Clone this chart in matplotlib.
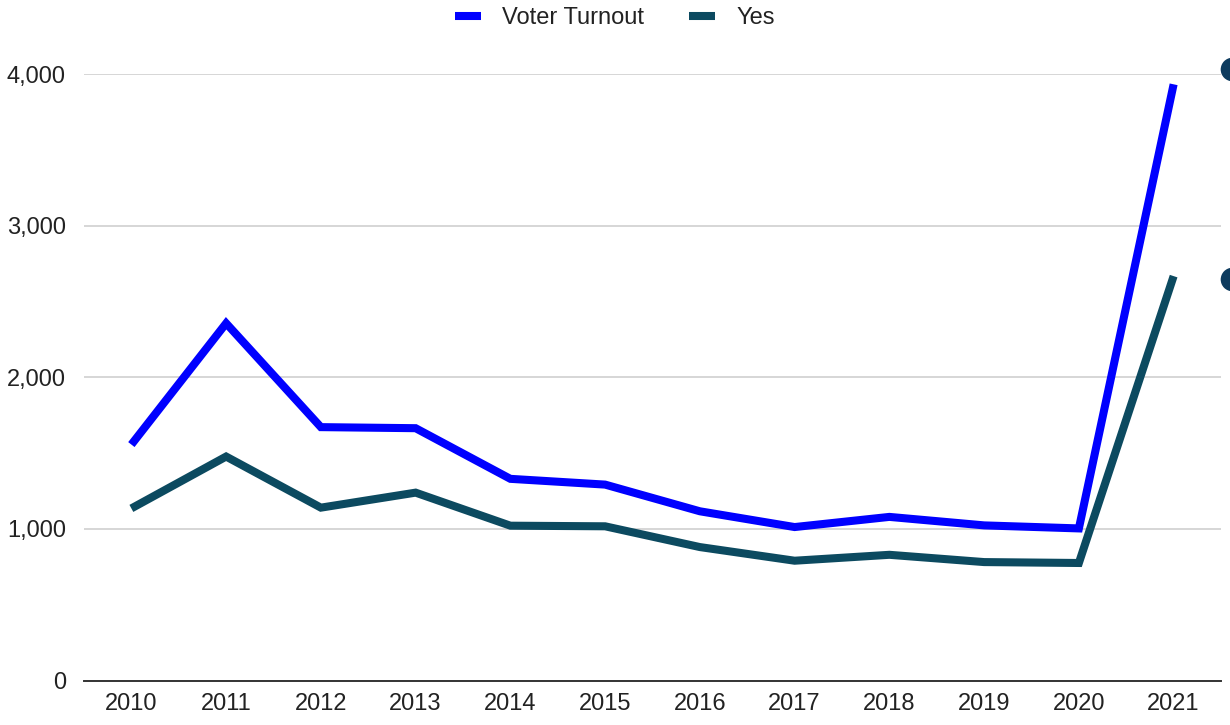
import matplotlib
matplotlib.use("Agg")
import matplotlib.pyplot as plt
from matplotlib.ticker import FuncFormatter, MultipleLocator

plt.rcParams['font.family'] = ['Liberation Sans', 'DejaVu Sans']

years = ["2010", "2011", "2012", "2013", "2014", "2015", "2016", "2017", "2018", "2019", "2020", "2021"]
voter_turnout = [1556, 2356, 1671, 1664, 1330, 1292, 1116, 1012, 1079, 1023, 1003, 3932]
yes_votes = [1135, 1477, 1140, 1239, 1021, 1017, 880, 790, 829, 781, 775, 2667]
edge_dot_values = [4035, 2647]

blue = "#0000ff"
teal = "#0c4a60"
text_color = "#222222"

fig = plt.figure(figsize=(12.3, 7.25), dpi=100)
ax = fig.add_axes([84 / 1230, 1 - 680.5 / 725, (1221 - 84) / 1230, (680.5 - 74) / 725])

x = list(range(len(years)))
ax.plot(x, voter_turnout, color=blue, lw=5.8, solid_joinstyle='miter', solid_capstyle='butt',
        label="Voter Turnout", zorder=3)
ax.plot(x, yes_votes, color=teal, lw=5.8, solid_joinstyle='miter', solid_capstyle='butt',
        label="Yes", zorder=3)

# partially visible dots at the right edge
ax.scatter([len(years) - 1 + 0.62] * len(edge_dot_values), edge_dot_values, s=17 ** 2,
           color="#0d3b5e", clip_on=False, zorder=4, linewidths=0)

ax.set_xlim(-0.5, len(years) - 0.5)
ax.set_ylim(0, 4000)
ax.yaxis.set_major_locator(MultipleLocator(1000))
ax.yaxis.set_major_formatter(FuncFormatter(lambda v, p: f"{int(v):,}"))
ax.set_xticks(x)
ax.set_xticklabels(years)

ax.grid(axis='y', color="#cccccc", lw=1.1)
ax.set_axisbelow(True)
for s in ["top", "right", "left"]:
    ax.spines[s].set_visible(False)
ax.spines["bottom"].set_color("#333333")
ax.spines["bottom"].set_linewidth(1.4)
ax.spines["bottom"].set_zorder(5)

ax.tick_params(axis='y', length=0, pad=13, labelsize=17, labelcolor=text_color)
ax.tick_params(axis='x', length=0, pad=9, labelsize=17, labelcolor=text_color)

leg = fig.legend(loc='center', bbox_to_anchor=(0.5, 1 - 18 / 725), ncol=2, frameon=False,
                 fontsize=17, handlelength=1.1, handletextpad=0.9, columnspacing=1.9)
for t in leg.get_texts():
    t.set_color(text_color)
for h in leg.get_lines():
    h.set_linewidth(5.8)
    h.set_solid_capstyle('butt')

fig.savefig("out.png", dpi=100)
